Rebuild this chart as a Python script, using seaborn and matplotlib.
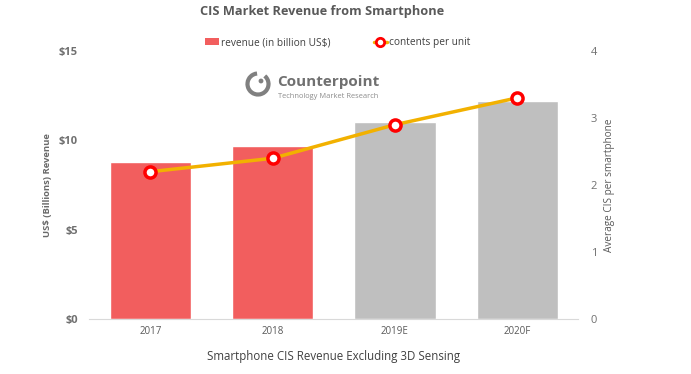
import matplotlib
matplotlib.use("Agg")
import matplotlib.pyplot as plt
from matplotlib.patches import Patch, Arc, Circle
from matplotlib.lines import Line2D
import seaborn as sns

# data
years = ["2017", "2018", "2019E", "2020F"]
revenue = [8.8, 9.7, 11.0, 12.2]
contents_per_unit = [2.2, 2.4, 2.9, 3.3]
bar_colors = ["#F25E5E", "#F25E5E", "#BFBFBF", "#BFBFBF"]

sns.set_style("white")
plt.rcParams["font.family"] = ["Open Sans", "DejaVu Sans"]

fig = plt.figure(figsize=(6.91, 3.74), dpi=100)
ax = fig.add_axes([0.129, 0.146, 0.708, 0.718])

sns.barplot(x=years, y=revenue, hue=years, palette=bar_colors,
            width=0.665, legend=False, ax=ax, saturation=1)
ax.set_ylim(0, 15)
ax.set_yticks([0, 5, 10, 15])
ax.set_yticklabels(["$0", "$5", "$10", "$15"], fontsize=8,
                   fontweight="bold", color="#707070")
ax.set_xlim(-0.5, 3.5)
ax.tick_params(axis="x", labelsize=7, colors="#595959", length=0, pad=5)
ax.tick_params(axis="y", length=0, pad=8)
ax.set_ylabel("US$ (Billions) Revenue", fontsize=6.8, fontweight="bold",
              color="#6A6A6A", labelpad=5)
ax.set_xlabel("Smartphone CIS Revenue Excluding 3D Sensing", fontsize=8.3,
              color="#404040", labelpad=9)
for s in ["top", "left", "right"]:
    ax.spines[s].set_visible(False)
ax.spines["bottom"].set_color("#D9D9D9")

ax2 = ax.twinx()
sns.lineplot(x=years, y=contents_per_unit, ax=ax2, color="#F2B100",
             linewidth=2.5, marker="o", markersize=8,
             markerfacecolor="white", markeredgecolor="#FF0000",
             markeredgewidth=2.5, sort=False)
ax2.set_ylim(0, 4)
ax2.set_yticks([0, 1, 2, 3, 4])
ax2.tick_params(axis="y", length=0, labelsize=8, colors="#707070", pad=9)
ax2.set_ylabel("Average CIS per smartphone", fontsize=7.2, color="#5A5A5A",
               labelpad=5)
for s in ["top", "left", "right", "bottom"]:
    ax2.spines[s].set_visible(False)

fig.text(0.466, 0.968, "CIS Market Revenue from Smartphone", ha="center",
         va="center", fontsize=9.2, fontweight="bold", color="#595959")

handles = [Patch(facecolor="#F25E5E", edgecolor="none"),
           Line2D([], [], color="#F2B100", linewidth=2.5, marker="o",
                  markersize=6, markerfacecolor="white",
                  markeredgecolor="#FF0000", markeredgewidth=2)]
fig.legend(handles, ["revenue (in billion US$)", "contents per unit"],
           loc="center", bbox_to_anchor=(0.489, 0.886), ncol=2, frameon=False,
           fontsize=7.3, handlelength=1.3, handletextpad=0.2,
           columnspacing=4.3, labelcolor="#404040")

# logo
arc = Arc((2.58, 2.90), 0.21, 0.21, theta1=95, theta2=410,
          transform=fig.dpi_scale_trans, color="#808080", linewidth=3)
fig.add_artist(arc)
fig.add_artist(Circle((2.61, 2.93), 0.017, transform=fig.dpi_scale_trans,
                      color="#808080"))
fig.text(0.401, 0.781, "Counterpoint", fontsize=11, fontweight="bold",
         color="#707070", va="center", ha="left")
fig.text(0.402, 0.742, "Technology Market Research", fontsize=5.4,
         color="#8C8C8C", va="center", ha="left")

fig.savefig("out.png", dpi=100)
